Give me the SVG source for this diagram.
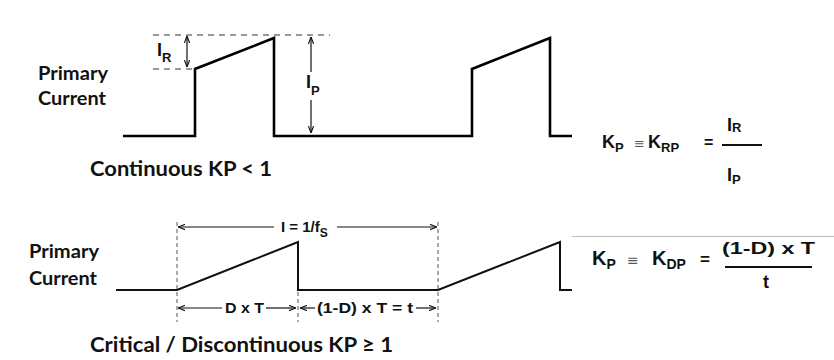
<svg xmlns="http://www.w3.org/2000/svg" width="834" height="360" viewBox="0 0 834 360">
<style>
.wave{fill:none;stroke:#000;stroke-width:2.6;stroke-linejoin:miter}
.wave2{fill:none;stroke:#111;stroke-width:2;stroke-linejoin:miter}
.dash{stroke:#333;stroke-width:1.2;stroke-dasharray:6 5;fill:none}
.vdash{stroke:#555;stroke-width:1;stroke-dasharray:4 3;fill:none}
.dim{stroke:#111;stroke-width:1.2;fill:none}
.head{font-family:"Lato","Liberation Sans",sans-serif;font-weight:700;fill:#111}
.lab{font-family:"Liberation Sans","DejaVu Sans",sans-serif;font-weight:700;fill:#111}
.eq{font-family:"Liberation Sans","DejaVu Sans",sans-serif;font-weight:700;fill:#111}
.equiv{font-family:"DejaVu Sans","Liberation Sans",sans-serif;fill:#555}
</style>
<defs>
<marker id="ah" viewBox="0 0 8 8" refX="8" refY="4" markerWidth="7" markerHeight="7" markerUnits="userSpaceOnUse" orient="auto-start-reverse">
<path d="M0,1 L8,4 L0,7" fill="none" stroke="#111" stroke-width="1.3"/>
</marker>
</defs>
<rect width="834" height="360" fill="#fff"/>
<line x1="572" y1="236.5" x2="834" y2="236.5" stroke="#bdbdbd" stroke-width="1"/>

<g id="top-labels">
<text class="head" x="38" y="80" font-size="18" textLength="70" lengthAdjust="spacingAndGlyphs">Primary</text>
<text class="head" x="38" y="105" font-size="18" textLength="68" lengthAdjust="spacingAndGlyphs">Current</text>
<text class="head" x="90" y="176" font-size="20" textLength="182" lengthAdjust="spacingAndGlyphs">Continuous KP &lt; 1</text>
</g>

<g id="top-waveform">
<polyline class="wave" points="123,136 195,136 195,69 274,38 274,136 472,136 472,69 550,38 550,136 572,136"/>
<line class="dash" x1="153" y1="35" x2="330" y2="35"/>
<line class="dash" x1="153" y1="69" x2="193" y2="69"/>
</g>

<g id="bottom-labels">
<text class="head" x="29" y="258" font-size="18" textLength="70" lengthAdjust="spacingAndGlyphs">Primary</text>
<text class="head" x="29" y="285" font-size="18" textLength="68" lengthAdjust="spacingAndGlyphs">Current</text>
<text class="head" x="90" y="352" font-size="21" textLength="303" lengthAdjust="spacingAndGlyphs">Critical / Discontinuous KP ≥ 1</text>
</g>

<g id="bottom-waveform">
<polyline class="wave2" points="116,290 177,290 298,242 298,290 438,290 560,242 560,290 572,290"/>
<line class="vdash" x1="177" y1="222" x2="177" y2="322"/>
<line class="vdash" x1="298" y1="292" x2="298" y2="322"/>
<line class="vdash" x1="438" y1="222" x2="438" y2="322"/>
</g>

<g id="connectors">
<line class="dim" x1="187" y1="67" x2="187" y2="36" marker-start="url(#ah)" marker-end="url(#ah)"/>
<line class="dim" x1="311" y1="72" x2="311" y2="37" marker-end="url(#ah)"/>
<line class="dim" x1="311" y1="100" x2="311" y2="133" marker-end="url(#ah)"/>
<line class="dim" x1="274" y1="227" x2="178" y2="227" marker-end="url(#ah)"/>
<line class="dim" x1="337" y1="227" x2="437" y2="227" marker-end="url(#ah)"/>
<line class="dim" x1="222" y1="308" x2="178" y2="308" marker-end="url(#ah)"/>
<line class="dim" x1="266" y1="308" x2="296" y2="308" marker-end="url(#ah)"/>
<line class="dim" x1="315" y1="308" x2="300" y2="308" marker-end="url(#ah)"/>
<line class="dim" x1="416" y1="308" x2="436" y2="308" marker-end="url(#ah)"/>
</g>

<g id="dim-labels">
<text class="lab" x="157" y="56" font-size="18">I<tspan font-size="13" dy="6">R</tspan></text>
<text class="lab" x="306" y="88" font-size="18">I<tspan font-size="13" dy="7">P</tspan></text>
<text class="lab" x="281" y="232" font-size="15">I = 1/f<tspan font-size="12" dy="5">S</tspan></text>
<text class="lab" x="225" y="313" font-size="15" textLength="39" lengthAdjust="spacingAndGlyphs">D x T</text>
<text class="lab" x="317" y="313" font-size="15" textLength="96" lengthAdjust="spacingAndGlyphs">(1-D) x T = t</text>
</g>

<g id="formula-continuous">
<text class="eq" x="602" y="148" font-size="18">K<tspan font-size="13" dy="4">P</tspan></text>
<text class="equiv" x="634" y="148" font-size="13">≡</text>
<text class="eq" x="648" y="148" font-size="18">K<tspan font-size="13" dy="4">RP</tspan></text>
<text class="eq" x="704" y="148" font-size="16">=</text>
<line x1="722" y1="145" x2="762" y2="145" stroke="#111" stroke-width="2"/>
<text class="eq" x="727" y="131" font-size="18">I<tspan font-size="13" dy="1">R</tspan></text>
<text class="eq" x="727" y="181" font-size="18">I<tspan font-size="13" dy="3">P</tspan></text>
</g>

<g id="formula-discontinuous">
<text class="eq" x="592" y="265" font-size="20">K<tspan font-size="14" dy="4">P</tspan></text>
<text class="equiv" x="627" y="265" font-size="14">≡</text>
<text class="eq" x="652" y="265" font-size="20">K<tspan font-size="14" dy="4">DP</tspan></text>
<text class="eq" x="700" y="265" font-size="17">=</text>
<text class="eq" x="722" y="254" font-size="16" textLength="93" lengthAdjust="spacingAndGlyphs">(1-D) x T</text>
<line x1="725" y1="267" x2="812" y2="267" stroke="#111" stroke-width="2"/>
<text class="eq" x="763" y="288" font-size="18">t</text>
</g>
</svg>
